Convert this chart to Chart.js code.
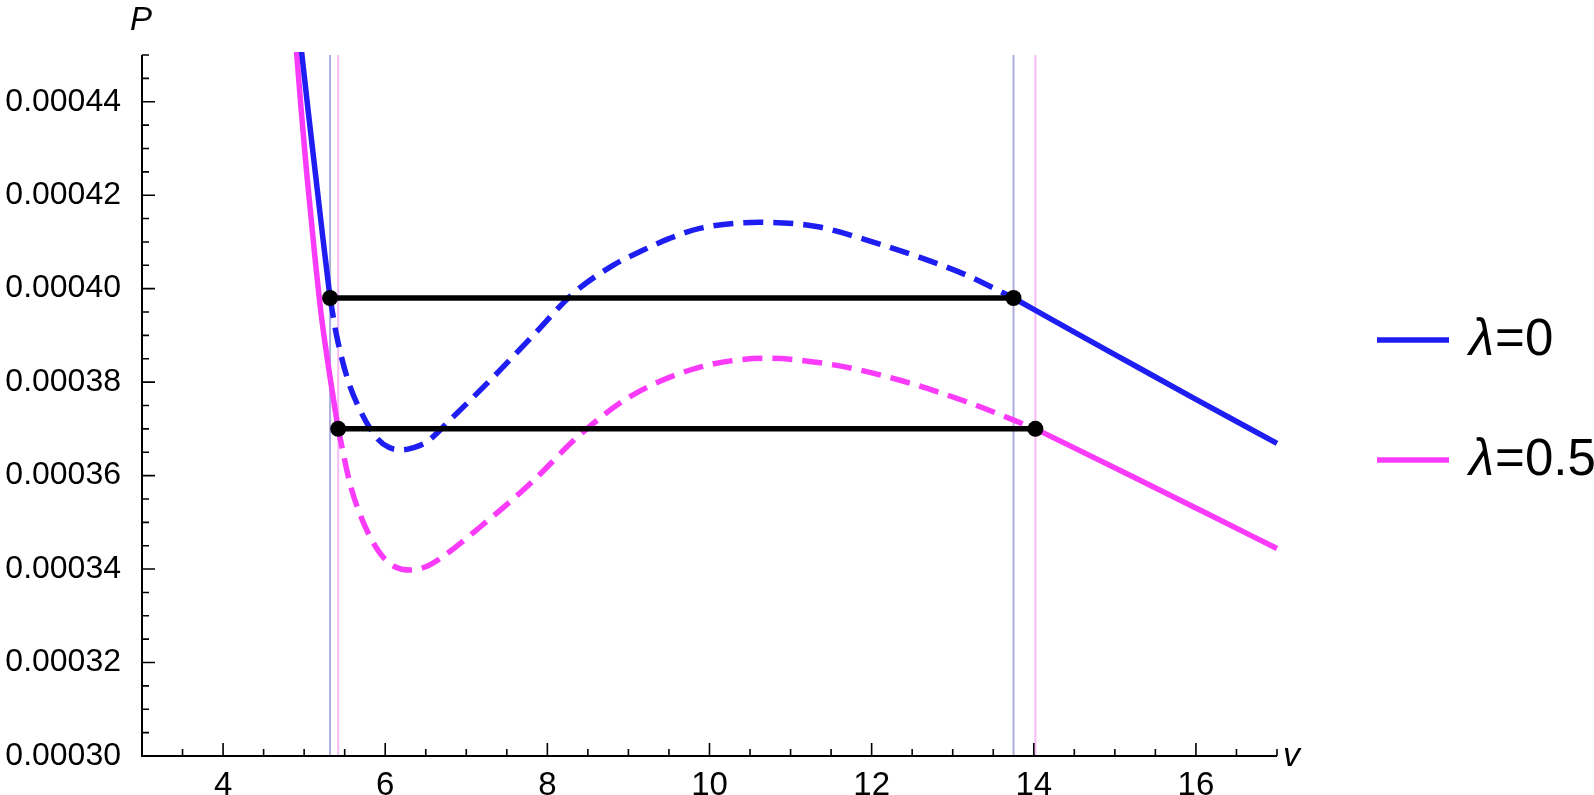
<!DOCTYPE html>
<html>
<head>
<meta charset="utf-8">
<script src="https://cdn.jsdelivr.net/npm/chart.js@4.4.1/dist/chart.umd.min.js"></script>
<style>
  html, body { margin: 0; padding: 0; background: #ffffff; }
  #wrap { width: 1594px; height: 795px; }
</style>
</head>
<body>
<div id="wrap"><canvas id="c" width="1594" height="795"></canvas></div>
<script>
// ---- data ----
const vBlue = [4.96, 5.05, 5.14, 5.23, 5.32, 5.40, 5.53, 5.69, 5.90, 6.05, 6.21, 6.35, 6.51, 6.84, 7.34, 7.83, 8.32, 8.82, 9.14, 9.50, 9.88, 10.62, 11.32, 11.94, 12.56, 13.17, 13.75, 14.50, 15.25, 16.00, 17.00];
const pBlue = [0.000452, 0.000438, 0.0004245, 0.000411, 0.000398, 0.000390, 0.000381, 0.000374, 0.000368, 0.0003660, 0.0003655, 0.0003660, 0.0003672, 0.0003726, 0.0003812, 0.0003901, 0.000399, 0.0004051, 0.0004079, 0.0004107, 0.0004129, 0.0004142, 0.0004133, 0.0004104, 0.0004069, 0.0004029, 0.000398, 0.0003907, 0.0003835, 0.0003763, 0.0003669];

const vPink = [4.90, 4.96, 5.03, 5.12, 5.21, 5.32, 5.42, 5.57, 5.73, 5.94, 6.12, 6.31, 6.50, 6.68, 7.17, 7.79, 8.40, 9.02, 9.84, 10.71, 11.53, 12.35, 13.17, 14.02, 15.23, 16.10, 17.00];
const pPink = [0.000452, 0.000439, 0.000425, 0.000409, 0.0003945, 0.000381, 0.000370, 0.000358, 0.000350, 0.0003433, 0.0003405, 0.0003398, 0.0003405, 0.0003423, 0.000349, 0.0003583, 0.0003687, 0.0003769, 0.000383, 0.0003851, 0.0003837, 0.0003804, 0.0003758, 0.000370, 0.0003597, 0.0003522, 0.0003444];

const blueMaxwellV = [5.32, 13.75];
const blueMaxwellP = [0.000398, 0.000398];
const pinkMaxwellV = [5.42, 14.02];
const pinkMaxwellP = [0.000370, 0.000370];

const legendRest = ["=0", "=0.5"];

const xTickValues = [4, 6, 8, 10, 12, 14, 16];
const xTickLabels = ["4", "6", "8", "10", "12", "14", "16"];
const xMinorTicks = [3.5, 4.5, 5, 5.5, 6.5, 7, 7.5, 8.5, 9, 9.5, 10.5, 11, 11.5, 12.5, 13, 13.5, 14.5, 15, 15.5, 16.5, 17];
const yTickValues = [0.00030, 0.00032, 0.00034, 0.00036, 0.00038, 0.00040, 0.00042, 0.00044];
const yTickLabels = ["0.00030", "0.00032", "0.00034", "0.00036", "0.00038", "0.00040", "0.00042", "0.00044"];
const yMinorTicks = [0.000305, 0.00031, 0.000315, 0.000325, 0.00033, 0.000335, 0.000345, 0.00035, 0.000355, 0.000365, 0.00037, 0.000375, 0.000385, 0.00039, 0.000395, 0.000405, 0.00041, 0.000415, 0.000425, 0.00043, 0.000435, 0.000445, 0.00045];

// ---- styling ----
const BLUE = "rgb(30,30,242)";
const PINK = "rgb(250,60,250)";
const BLUE_LIGHT = "rgb(172,172,222)";
const PINK_LIGHT = "rgb(246,186,246)";
const FONT = "'Liberation Sans', Arial, sans-serif";

function pts(v, p) { return v.map((x, i) => ({ x: x, y: p[i] })); }
function segment(v, p, lo, hi) {
  const out = [];
  v.forEach((x, i) => { if (x >= lo - 1e-9 && x <= hi + 1e-9) out.push({ x: x, y: p[i] }); });
  return out;
}

const curveBase = { showLine: true, pointRadius: 0, pointHoverRadius: 0, borderWidth: 5.5, cubicInterpolationMode: 'monotone', fill: false, clip: 3, borderCapStyle: 'butt' };
const DASH = [20, 10];

const datasets = [
  { data: pts(blueMaxwellV, blueMaxwellP), showLine: true, borderColor: '#000', backgroundColor: '#000', borderWidth: 5.5, pointRadius: 8, pointBorderWidth: 0, order: 0 },
  { data: pts(pinkMaxwellV, pinkMaxwellP), showLine: true, borderColor: '#000', backgroundColor: '#000', borderWidth: 5.5, pointRadius: 8, pointBorderWidth: 0, order: 0 },
  Object.assign({}, curveBase, { data: segment(vBlue, pBlue, -Infinity, blueMaxwellV[0]), borderColor: BLUE, order: 1 }),
  Object.assign({}, curveBase, { data: segment(vBlue, pBlue, blueMaxwellV[0], blueMaxwellV[1]), borderColor: BLUE, borderDash: DASH, order: 1 }),
  Object.assign({}, curveBase, { data: segment(vBlue, pBlue, blueMaxwellV[1], Infinity), borderColor: BLUE, order: 1 }),
  Object.assign({}, curveBase, { data: segment(vPink, pPink, -Infinity, pinkMaxwellV[0]), borderColor: PINK, order: 2 }),
  Object.assign({}, curveBase, { data: segment(vPink, pPink, pinkMaxwellV[0], pinkMaxwellV[1]), borderColor: PINK, borderDash: DASH, order: 2 }),
  Object.assign({}, curveBase, { data: segment(vPink, pPink, pinkMaxwellV[1], Infinity), borderColor: PINK, order: 2 }),
  { data: [{x: blueMaxwellV[0], y: 0.0003}, {x: blueMaxwellV[0], y: 0.00045}], showLine: true, pointRadius: 0, borderColor: BLUE_LIGHT, borderWidth: 2, order: 5 },
  { data: [{x: blueMaxwellV[1], y: 0.0003}, {x: blueMaxwellV[1], y: 0.00045}], showLine: true, pointRadius: 0, borderColor: BLUE_LIGHT, borderWidth: 2, order: 5 },
  { data: [{x: pinkMaxwellV[0], y: 0.0003}, {x: pinkMaxwellV[0], y: 0.00045}], showLine: true, pointRadius: 0, borderColor: PINK_LIGHT, borderWidth: 2, order: 5 },
  { data: [{x: pinkMaxwellV[1], y: 0.0003}, {x: pinkMaxwellV[1], y: 0.00045}], showLine: true, pointRadius: 0, borderColor: PINK_LIGHT, borderWidth: 2, order: 5 }
];

const axesPlugin = {
  id: 'axesInward',
  afterDraw(chart) {
    const ctx = chart.ctx, a = chart.chartArea;
    const xs = chart.scales.x, ys = chart.scales.y;
    ctx.save();
    ctx.strokeStyle = '#000';
    ctx.lineWidth = 2;
    ctx.beginPath();
    ctx.moveTo(a.left, a.top); ctx.lineTo(a.left, a.bottom); ctx.lineTo(a.right, a.bottom);
    ctx.stroke();
    ctx.lineWidth = 1.6;
    ctx.beginPath();
    xTickValues.forEach(v => { const p = xs.getPixelForValue(v); ctx.moveTo(p, a.bottom); ctx.lineTo(p, a.bottom - 13); });
    xMinorTicks.forEach(v => { const p = xs.getPixelForValue(v); ctx.moveTo(p, a.bottom); ctx.lineTo(p, a.bottom - 7); });
    yTickValues.forEach(v => { const p = ys.getPixelForValue(v); ctx.moveTo(a.left, p); ctx.lineTo(a.left + 13, p); });
    yMinorTicks.forEach(v => { const p = ys.getPixelForValue(v); ctx.moveTo(a.left, p); ctx.lineTo(a.left + 7, p); });
    ctx.stroke();
    ctx.fillStyle = '#000';
    ctx.textBaseline = 'alphabetic';
    ctx.textAlign = 'left';
    ctx.font = "italic 33px " + FONT;
    ctx.fillText('P', 130, 30);
    ctx.font = "italic 34px " + FONT;
    ctx.fillText('v', 1283, 766);
    const entries = [{ color: BLUE, y: 340 }, { color: PINK, y: 460 }];
    entries.forEach((e, i) => {
      ctx.strokeStyle = e.color;
      ctx.lineWidth = 5.5;
      ctx.beginPath(); ctx.moveTo(1377, e.y); ctx.lineTo(1449, e.y); ctx.stroke();
      ctx.textBaseline = 'middle';
      ctx.font = "italic 51px " + FONT;
      ctx.fillText('λ', 1469, e.y + 1);
      const w = ctx.measureText('λ').width;
      ctx.font = "51px " + FONT;
      ctx.fillText(legendRest[i], 1469 + w + 1, e.y + 1);
    });
    ctx.restore();
  }
};

new Chart(document.getElementById('c'), {
  type: 'scatter',
  data: { datasets: datasets },
  options: {
    responsive: false,
    devicePixelRatio: 1,
    animation: false,
    events: [],
    layout: { padding: { left: 0, right: 317, top: 55, bottom: 0 } },
    plugins: { legend: { display: false }, tooltip: { enabled: false } },
    scales: {
      x: {
        type: 'linear', min: 3, max: 17,
        grid: { display: false }, border: { display: false },
        afterBuildTicks: s => { s.ticks = xTickValues.map(v => ({ value: v })); },
        afterFit: s => { s.height = 39; },
        ticks: { autoSkip: false, maxRotation: 0, padding: 2, color: '#000', font: { family: FONT, size: 33 },
          callback: (val, i) => xTickLabels[i] }
      },
      y: {
        type: 'linear', min: 0.0003, max: 0.00045,
        grid: { display: false }, border: { display: false },
        afterBuildTicks: s => { s.ticks = yTickValues.map(v => ({ value: v })); },
        afterFit: s => { s.width = 142; },
        ticks: { autoSkip: false, padding: 13, color: '#000', font: { family: FONT, size: 32 },
          callback: (val, i) => yTickLabels[i] }
      }
    }
  },
  plugins: [axesPlugin]
});
</script>
</body>
</html>
